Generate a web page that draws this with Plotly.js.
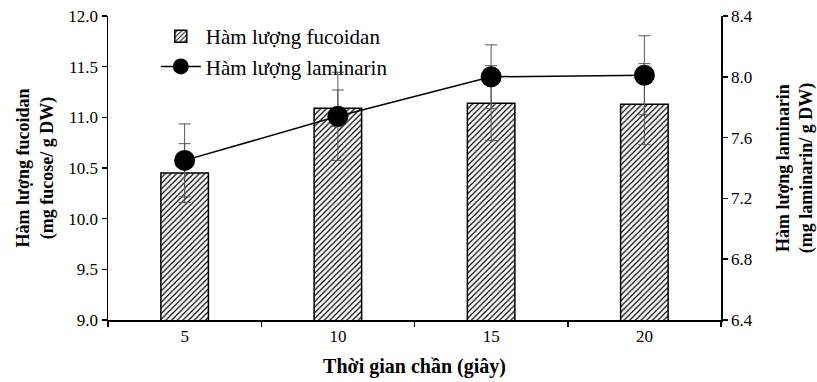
<!DOCTYPE html>
<html>
<head>
<meta charset="utf-8">
<script src="https://cdn.plot.ly/plotly-3.0.1.min.js"></script>
<style>html,body{margin:0;padding:0;background:#fff;}#chart{width:817px;height:382px;}</style>
</head>
<body>
<div id="chart"></div>
<script>
const categories = ['5', '10', '15', '20'];
const fucoidan = [10.45, 11.09, 11.14, 11.13];
const fucoidanErr = [0.29, 0.18, 0.37, 0.40];
const laminarin = [7.45, 7.74, 8.00, 8.01];
const laminarinErr = [0.24, 0.29, 0.21, 0.26];
const yLeftTicks = [9.0, 9.5, 10.0, 10.5, 11.0, 11.5, 12.0];
const yRightTicks = [6.4, 6.8, 7.2, 7.6, 8.0, 8.4];

const serif = 'Liberation Serif, Times New Roman, serif';

const traces = [
  {
    type: 'bar',
    name: 'Hàm lượng fucoidan',
    x: categories,
    y: fucoidan,
    width: 0.31,
    marker: {
      color: 'white',
      line: {color: 'black', width: 1.5},
      pattern: {shape: '/', fgcolor: 'black', bgcolor: 'white', size: 4, solidity: 0.3}
    },
    error_y: {type: 'data', array: fucoidanErr, visible: true, color: '#555', thickness: 1, width: 6},
    yaxis: 'y'
  },
  {
    type: 'scatter',
    mode: 'lines+markers',
    name: 'Hàm lượng laminarin',
    x: categories,
    y: laminarin,
    line: {color: 'black', width: 1.5},
    marker: {color: 'black', size: 21},
    error_y: {type: 'data', array: laminarinErr, visible: true, color: '#555', thickness: 1, width: 6},
    yaxis: 'y2'
  }
];

const layout = {
  width: 817,
  height: 382,
  margin: {l: 108, r: 96, t: 16, b: 62},
  paper_bgcolor: 'white',
  plot_bgcolor: 'white',
  font: {family: serif, color: 'black', size: 16},
  showlegend: true,
  legend: {
    x: 0.078, y: 1.0, xanchor: 'left', yanchor: 'top',
    bgcolor: 'rgba(0,0,0,0)',
    font: {family: serif, size: 21, color: 'black'},
    tracegroupgap: 0,
    itemwidth: 40
  },
  xaxis: {
    type: 'category',
    categoryorder: 'array',
    categoryarray: categories,
    showline: true, linecolor: 'black', linewidth: 1.5,
    ticks: 'outside', tickson: 'boundaries', ticklen: 5, tickcolor: 'black', tickwidth: 1.5,
    showgrid: false, zeroline: false,
    tickfont: {family: serif, size: 17},
    title: {text: '<b>Thời gian chần (giây)</b>', font: {family: serif, size: 20}, standoff: 14}
  },
  yaxis: {
    range: [9, 12],
    tickvals: yLeftTicks,
    tickformat: '.1f',
    showline: true, linecolor: 'black', linewidth: 1.5,
    ticks: 'outside', ticklen: 5, tickcolor: 'black', tickwidth: 1.5,
    showgrid: false, zeroline: false,
    tickfont: {family: serif, size: 17},
    title: {text: '<b>Hàm lượng fucoidan<br>(mg fucose/ g DW)</b>', font: {family: serif, size: 18}, standoff: 10}
  },
  yaxis2: {
    overlaying: 'y',
    side: 'right',
    range: [6.4, 8.4],
    tickvals: yRightTicks,
    tickformat: '.1f',
    showline: true, linecolor: 'black', linewidth: 1.5,
    ticks: 'outside', ticklen: 5, tickcolor: 'black', tickwidth: 1.5,
    showgrid: false, zeroline: false,
    tickfont: {family: serif, size: 17},
    title: {text: '<b>Hàm lượng laminarin<br>(mg laminarin/ g DW)</b>', font: {family: serif, size: 18}, standoff: 24}
  }
};

Plotly.newPlot('chart', traces, layout, {displayModeBar: false, staticPlot: true});
</script>
</body>
</html>
